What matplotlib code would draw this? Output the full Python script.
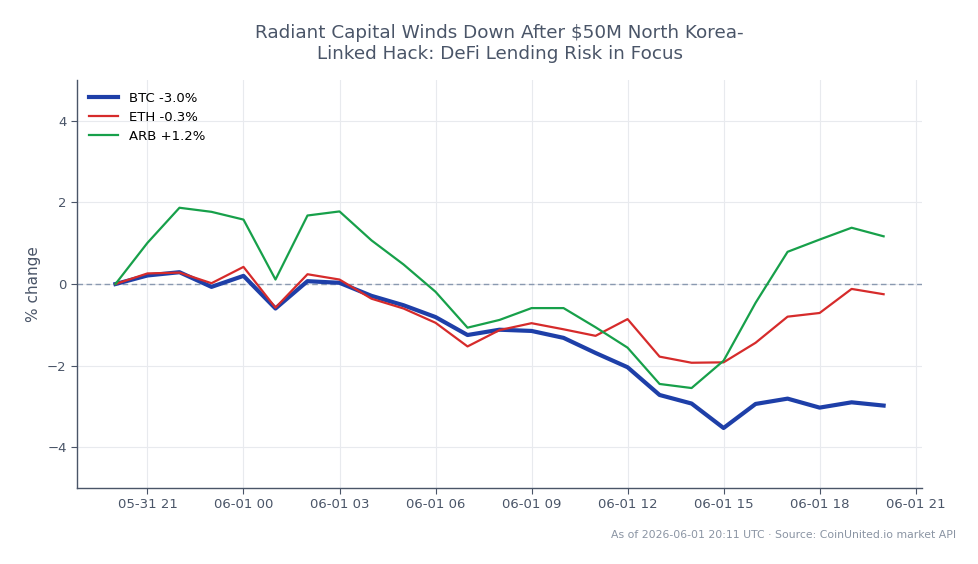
import matplotlib
matplotlib.use("Agg")
import matplotlib.pyplot as plt
import matplotlib.dates as mdates
import numpy as np
import pandas as pd

# hourly % change since 05-31 20:00 UTC
times = pd.date_range("2026-05-31 20:00", "2026-06-01 20:00", freq="h")
btc = [0.0, 0.21, 0.29, -0.07, 0.20, -0.60, 0.07, 0.03, -0.29, -0.52, -0.81, -1.25, -1.12,
       -1.15, -1.32, -1.69, -2.04, -2.72, -2.93, -3.53, -2.94, -2.81, -3.03, -2.90, -2.98]
eth = [0.0, 0.26, 0.28, 0.02, 0.42, -0.58, 0.24, 0.11, -0.36, -0.60, -0.95, -1.53, -1.13,
       -0.96, -1.11, -1.27, -0.86, -1.78, -1.93, -1.92, -1.44, -0.80, -0.71, -0.12, -0.25]
arb = [0.0, 1.01, 1.87, 1.77, 1.58, 0.11, 1.68, 1.78, 1.07, 0.48, -0.19, -1.07, -0.88,
       -0.59, -0.59, -1.06, -1.56, -2.45, -2.55, -1.88, -0.46, 0.79, 1.09, 1.38, 1.17]

series = [
    ("BTC -3.0%", btc, "#1e3fa8", 3.0),
    ("ETH -0.3%", eth, "#d62b2b", 1.6),
    ("ARB +1.2%", arb, "#17a04a", 1.6),
]

slate = "#4a5568"

fig = plt.figure(figsize=(9.79, 5.64), dpi=100)
ax = fig.add_axes([0.0787, 0.1348, 0.8631, 0.7232])

ax.axhline(0, color="#8a99b0", lw=1.0, ls=(0, (4, 2.5)), zorder=1)

for label, vals, color, lw in series:
    ax.plot(times, vals, color=color, lw=lw, label=label, zorder=2)

ax.set_ylim(-5, 5)
ax.set_yticks([-4, -2, 0, 2, 4])
ax.xaxis.set_major_locator(mdates.HourLocator(byhour=[0, 3, 6, 9, 12, 15, 18, 21]))
ax.xaxis.set_major_formatter(mdates.DateFormatter("%m-%d %H"))

ax.grid(True, color="#e8eaee", lw=0.8)
ax.set_axisbelow(True)
for s in ["top", "right"]:
    ax.spines[s].set_visible(False)
for s in ["left", "bottom"]:
    ax.spines[s].set_color(slate)
    ax.spines[s].set_linewidth(1.0)
ax.tick_params(colors=slate, labelsize=9.5, length=4)

ax.set_ylabel("% change", color=slate, fontsize=11)
ax.set_title("Radiant Capital Winds Down After $50M North Korea-\nLinked Hack: DeFi Lending Risk in Focus",
             color=slate, fontsize=13.2, pad=15)

ax.legend(loc="upper left", frameon=False, fontsize=9.5, handlelength=2.2, labelspacing=0.45)

fig.text(0.977, 0.051, "As of 2026-06-01 20:11 UTC · Source: CoinUnited.io market API",
         ha="right", va="center", fontsize=7.8, color="#8a94a3")

fig.savefig("out.png", dpi=100)
